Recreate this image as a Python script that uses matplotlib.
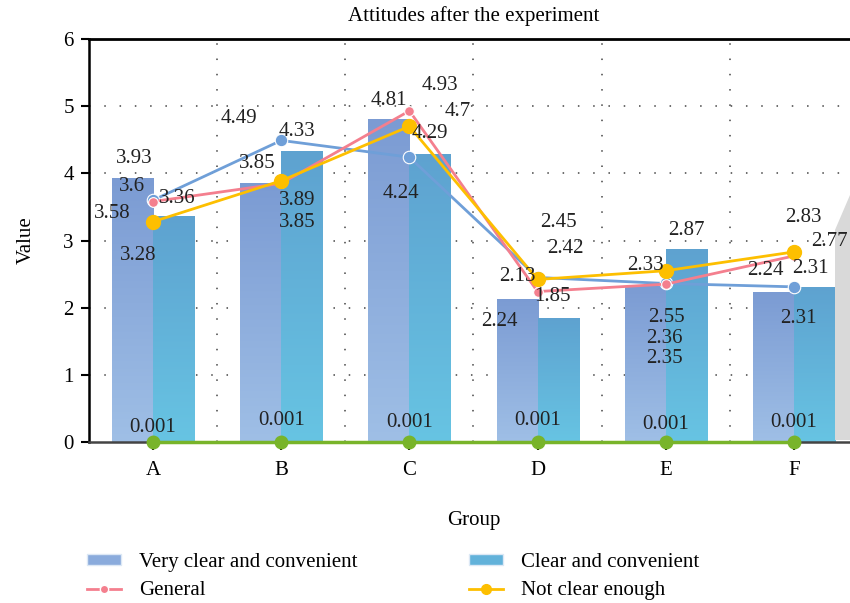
import numpy as np
import matplotlib
matplotlib.use("Agg")
import matplotlib.pyplot as plt
from matplotlib.patches import Polygon
from matplotlib.lines import Line2D
from matplotlib.patches import Patch

plt.rcParams['font.family'] = ['Liberation Serif', 'DejaVu Serif']

groups = ['A', 'B', 'C', 'D', 'E', 'F']
very_clear = [3.93, 3.85, 4.81, 2.13, 2.33, 2.24]
clear = [3.36, 4.33, 4.29, 1.85, 2.87, 2.31]
blue_series = [3.6, 4.49, 4.24, 2.45, 2.36, 2.31]
general = [3.58, 3.85, 4.93, 2.24, 2.35, 2.77]
not_clear = [3.28, 3.89, 4.7, 2.42, 2.55, 2.83]
green_series = [0.001, 0.001, 0.001, 0.001, 0.001, 0.001]

# label offsets (pixels) for each series, one per group
off_very = [(2, 20), (-3, 20), (0, 18), (0, 22), (0, 20), (-8, 21)]
off_clear = [(4, 18), (-5, 20), (0, 20), (-6, 21), (0, 19), (-4, 18)]
off_blue = [(-21, 14), (-42, 22), (-8, -36), (21, 55), (-1, -55), (4, -32)]
off_general = [(-41, -12), (16, -39), (31, 25), (-38, -30), (-1, -74), (36, 14)]
off_not = [(-15, -34), (16, -20), (48, 15), (28, 31), (1, -47), (9, 34)]
off_green = [(0, 14), (0, 21), (0, 19), (0, 21), (0, 17), (0, 19)]

FS = 15

fig = plt.figure(figsize=(8.5, 6.03), dpi=100)
ax = fig.add_axes([89 / 850, 161 / 603, 769 / 850, 403 / 603])

x = np.arange(len(groups))
w = 0.32


def gradient_bars(xs, heights, top, bottom):
    bars = ax.bar(xs, heights, width=w, color=top, edgecolor='#dce8f5',
                  linewidth=0.6, zorder=2)
    grad = np.linspace(0, 1, 256).reshape(-1, 1)
    cmap = matplotlib.colors.LinearSegmentedColormap.from_list('g', [bottom, top])
    for b in bars:
        x0, h = b.get_x(), b.get_height()
        im = ax.imshow(grad, cmap=cmap, origin='lower', aspect='auto',
                       extent=[x0, x0 + b.get_width(), 0, h], zorder=2.1)
        im.set_clip_path(b)
    return bars


gradient_bars(x - w / 2, very_clear, '#7b9bd3', '#9fbfe6')
gradient_bars(x + w / 2, clear, '#5ea2d0', '#67c4e3')

ax.plot(x, blue_series, color='#6f9fd8', lw=2, marker='o', ms=9,
        mec='white', mew=0.8, zorder=4)
ax.plot(x, general, color='#f47f8e', lw=2, marker='o', ms=7,
        mec='white', mew=0.8, zorder=5)
ax.plot(x, not_clear, color='#fdbf00', lw=2, marker='o', ms=10,
        mec='#fdbf00', zorder=6)
ax.plot(x, green_series, color='#78b42a', lw=2.5, marker='o', ms=9,
        zorder=6, clip_on=False)


def put_labels(xs, vals, offs):
    for xi, v, (dx, dy) in zip(xs, vals, offs):
        ax.annotate(f'{v:g}', (xi, v), xytext=(dx, dy),
                    textcoords='offset pixels', ha='center', va='center',
                    fontsize=FS, color='#222222', zorder=8)


put_labels(x - w / 2, very_clear, off_very)
put_labels(x + w / 2, clear, off_clear)
put_labels(x, blue_series, off_blue)
put_labels(x, general, off_general)
put_labels(x, not_clear, off_not)
put_labels(x, green_series, off_green)

ax.set_xlim(-0.5, 5.5)
ax.set_ylim(0, 6)
ax.set_xticks(x)
ax.set_xticklabels(groups, fontsize=FS)
ax.set_yticks(range(7))
ax.tick_params(axis='y', labelsize=FS, length=6, width=1.5, pad=5)
ax.tick_params(axis='x', length=6, width=1.5, pad=8)

for yv in range(1, 6):
    ax.axhline(yv, color='#444444', lw=1.1, ls=(0, (1, 9)), zorder=1)
for xv in np.arange(0.5, 5.5, 1):
    ax.axvline(xv, color='#444444', lw=1.1, ls=(0, (1, 9)), zorder=1)

ax.spines['top'].set_linewidth(2)
ax.spines['left'].set_linewidth(1.8)
ax.spines['bottom'].set_color('#444444')
ax.spines['bottom'].set_linewidth(1.8)
ax.spines['right'].set_visible(False)

ax.set_title('Attitudes after the experiment', fontsize=FS, pad=13)
ax.set_ylabel('Value', fontsize=FS, labelpad=20)
ax.set_xlabel('Group', fontsize=FS, labelpad=22)

handles = [
    Patch(facecolor='#8aabdc', edgecolor='#dce8f5'),
    Line2D([], [], color='#f47f8e', lw=2, marker='o', ms=6, mec='white'),
    Patch(facecolor='#62b2da', edgecolor='#dce8f5'),
    Line2D([], [], color='#fdbf00', lw=2, marker='o', ms=7),
]
labels = ['Very clear and convenient', 'General', 'Clear and convenient',
          'Not clear enough']
fig.legend(handles, labels, ncol=2, loc='upper left',
           bbox_to_anchor=(87 / 850, 1 - 553 / 603), frameon=False,
           fontsize=FS, borderpad=0, borderaxespad=0, handlelength=1.65,
           handleheight=0.45, handletextpad=0.85, columnspacing=5.35,
           labelspacing=0.44)

# watermark shape at the right edge
ax.add_patch(Polygon([(835 / 850, 1 - 230 / 603), (1, 1 - 195 / 603),
                      (1, 1 - 440 / 603), (835 / 850, 1 - 440 / 603)],
                     closed=True, transform=fig.transFigure, clip_on=False,
                     facecolor='#d9d9d9', edgecolor='none', zorder=7))

fig.savefig('out.png', dpi=100)
